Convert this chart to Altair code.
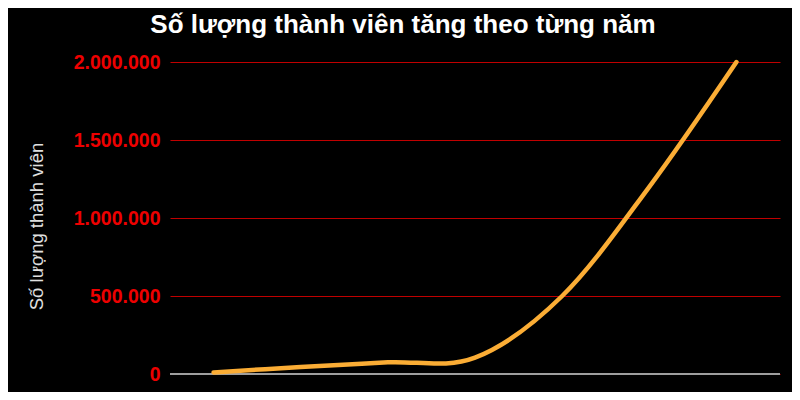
import altair as alt
import pandas as pd

years = ["2017", "2018", "2019", "2020", "2021", "2022", "2023"]
members = [10000, 45000, 75000, 105000, 500000, 1200000, 2000000]
y_ticks = [0, 500000, 1000000, 1500000, 2000000]

df = pd.DataFrame({"year": years, "members": members})
base_df = pd.DataFrame({"zero": [0]})

x_enc = alt.X("year:O", scale=alt.Scale(type="point", padding=0.5),
              axis=alt.Axis(labels=False, ticks=False, domain=False, grid=False, title=None))

line = alt.Chart(df).mark_line(
    interpolate="cardinal", color="#fbad35", strokeWidth=4.5, strokeCap="round"
).encode(
    x=x_enc,
    y=alt.Y("members:Q",
            scale=alt.Scale(domain=[0, 2000000], nice=False),
            axis=alt.Axis(
                values=y_ticks,
                title="Số lượng thành viên",
                titleColor="#e0e0e0", titleFont="Liberation Sans", titleFontSize=18.5,
                titleFontWeight="normal", titleAngle=270, titleX=-124, titleY=164,
                titleAlign="center", titleBaseline="bottom",
                labelColor="#ee0000", labelFont="Liberation Sans", labelFontSize=19.5,
                labelFontWeight="bold", labelPadding=10,
                labelExpr="replace(format(datum.value, ','), regexp(',', 'g'), '.')",
                ticks=False, domain=False,
                grid=True, gridColor="#c00000", gridWidth=1, gridOpacity=1,
            )),
)

baseline = alt.Chart(base_df).mark_rule(color="#9e9e9e", strokeWidth=2).encode(
    y=alt.Y("zero:Q", scale=alt.Scale(domain=[0, 2000000], nice=False)),
)

chart = alt.layer(baseline, line).properties(
    width=610,
    height=312,
    autosize=alt.AutoSizeParams(type="none"),
    padding={"left": 162, "top": 54, "right": 12, "bottom": 18},
    background="#000000",
    title=alt.Title(
        "Số lượng thành viên tăng theo từng năm",
        color="#ffffff", font="Liberation Sans", fontSize=26, fontWeight="bold",
        anchor="middle", dx=-72, offset=14,
    ),
).configure_view(stroke=None)

chart.save("out.html", embed_options={"renderer": "svg", "actions": False})
